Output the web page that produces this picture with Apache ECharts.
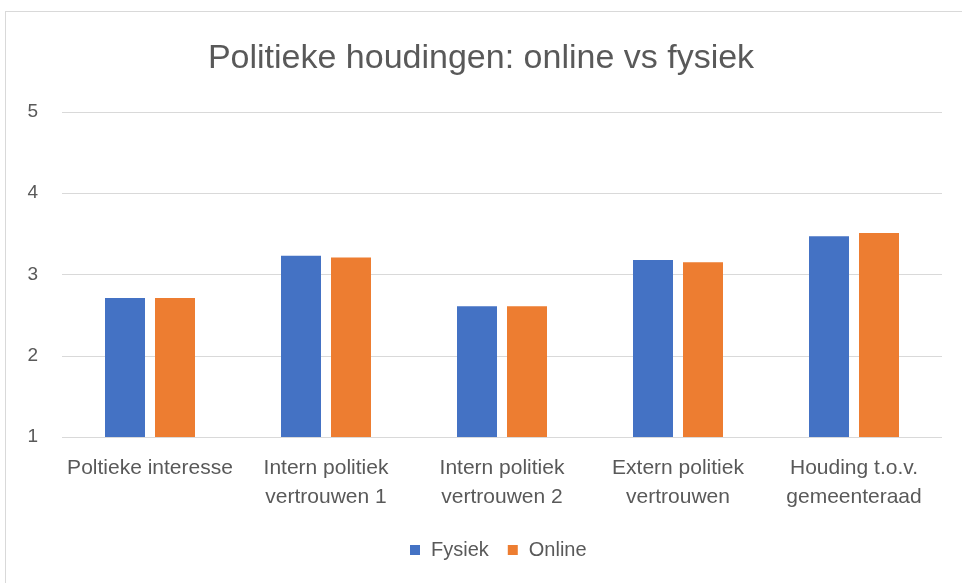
<!DOCTYPE html>
<html>
<head>
<meta charset="utf-8">
<script src="https://cdn.jsdelivr.net/npm/echarts@6/dist/echarts.min.js"></script>
<style>
  html, body { margin: 0; padding: 0; background: #fff; }
  #frame {
    position: absolute; left: 5px; top: 11px; width: 970px; height: 590px;
    border: 1px solid #d9d9d9; box-sizing: border-box;
  }
  #chart { position: absolute; left: 0; top: 0; width: 962px; height: 583px; }
</style>
</head>
<body>
<div id="frame"></div>
<div id="chart"></div>
<script>
// categorieën en waarden
const categories = [
  "Poltieke interesse",
  "Intern politiek\nvertrouwen 1",
  "Intern politiek\nvertrouwen 2",
  "Extern politiek\nvertrouwen",
  "Houding t.o.v.\ngemeenteraad",
];
const fysiek = [2.71, 3.23, 2.61, 3.18, 3.47];
const online = [2.71, 3.21, 2.61, 3.15, 3.51];
const yTicks = [1, 2, 3, 4, 5];

const font = "'Liberation Sans', Arial, sans-serif";

const chart = echarts.init(document.getElementById("chart"));

const option = {
  animation: false,
  title: {
    text: "Politieke houdingen: online vs fysiek",
    left: "center",
    top: 37,
    textStyle: {
      color: "#595959",
      fontFamily: font,
      fontWeight: "normal",
      fontSize: 34,
    },
  },
  legend: {
    bottom: 18,
    left: 405,
    itemWidth: 10,
    itemHeight: 10,
    itemGap: 19,
    icon: "rect",
    textStyle: { color: "#595959", fontFamily: font, fontSize: 20, padding: [0, 0, 0, 6] },
    data: ["Fysiek", "Online"],
  },
  grid: { left: 62, right: 20, top: 112, bottom: 146 },
  xAxis: {
    type: "category",
    data: categories,
    axisLine: { show: false },
    axisTick: { show: false },
    axisLabel: {
      color: "#595959",
      fontFamily: font,
      fontSize: 21,
      lineHeight: 29,
      margin: 17,
      interval: 0,
      verticalAlign: "top",
    },
  },
  yAxis: {
    type: "value",
    min: yTicks[0],
    max: yTicks[yTicks.length - 1],
    interval: 1,
    axisLabel: {
      color: "#595959",
      fontFamily: font,
      fontSize: 19,
      margin: 24,
    },
    splitLine: { lineStyle: { color: "#d9d9d9", width: 1 } },
  },
  series: [
    {
      name: "Fysiek",
      type: "bar",
      data: fysiek,
      barWidth: 40,
      barGap: "25%",
      itemStyle: { color: "#4472C4" },
    },
    {
      name: "Online",
      type: "bar",
      data: online,
      barWidth: 40,
      itemStyle: { color: "#ED7D31" },
    },
  ],
};

chart.setOption(option);
</script>
</body>
</html>
